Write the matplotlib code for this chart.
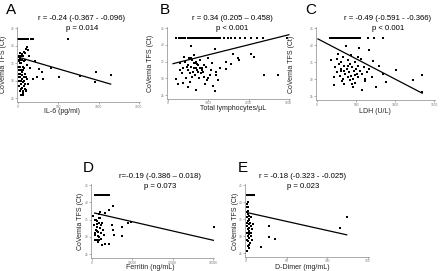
import matplotlib
matplotlib.use("Agg")
import matplotlib.pyplot as plt
import numpy as np

plt.rcParams['font.family'] = ['Liberation Sans', 'DejaVu Sans']

W, H = 440, 271

# ---- panel A : IL-6
a_flat_x = [0, 4, 8, 12, 16, 20, 24, 28, 32, 36, 40, 44, 48, 52, 56, 60, 64, 68, 72, 76, 80,
            84, 88, 92, 96, 100, 105, 110, 115, 120, 128, 160, 182, 616]
a_x = [3, 5, 6, 8, 10, 10, 12, 12, 15, 15, 18, 20, 20, 22, 25, 25, 28, 30, 30, 32, 35, 35, 38,
       40, 42, 45, 45, 48, 50, 52, 55, 58, 60, 60, 62, 65, 68, 70, 70, 72, 75, 78, 80, 85, 85,
       88, 90, 95, 95, 100, 105, 110, 120, 112, 128, 140, 150, 215, 264, 236, 190, 306, 298,
       409, 512, 769, 959, 967, 1153, 37, 57, 99, 65]
a_y = [34, 37, 32, 36, 35.5, 30, 34, 31, 33, 28.5, 36.5, 32, 27, 35, 31, 38, 34, 30, 36, 37,
       33, 26, 29, 35, 31.5, 28, 37.5, 36, 32.5, 30.5, 27, 34, 29.5, 37, 33, 26.5, 31, 35.5,
       38.2, 28.5, 30, 33.5, 27.5, 32, 38, 29, 36, 31, 39, 27, 34.5, 30.5, 29, 39.7, 38.7,
       37, 33.5, 35.6, 33.2, 30.9, 30.4, 30.6, 32.6, 33.5, 31.1, 31.4, 29.5, 32.5, 31.5,
       27.5, 26.5, 27.3, 25.8]

# ---- panel B : lymphocytes
b_flat_x = [205, 260, 330, 380, 420, 494, 530, 570, 600, 640, 680, 720, 760, 800, 840, 880,
            920, 960, 1000, 1040, 1080, 1120, 1160, 1200, 1250, 1300, 1398, 1480, 1560, 1650,
            1780, 1900, 2050, 2200, 2346, 2964]
b_x = [205, 247, 300, 350, 380, 420, 450, 480, 494, 500, 520, 540, 560, 576, 580, 600, 620,
       640, 650, 660, 680, 700, 699, 720, 740, 760, 780, 800, 820, 850, 880, 900, 950, 1000,
       1050, 1100, 1152, 1152, 1200, 1250, 1300, 1440, 1440, 1564, 1605, 1729, 1770, 2058,
       2140, 2371, 2743, 400, 460, 530, 610, 690, 750, 830, 910, 980, 1060, 1120, 1180, 300,
       360, 560, 640, 720, 870, 960]
b_y = [29.8, 28.3, 34.5, 31.5, 33, 35, 30, 32.5, 27.4, 34, 36, 31.5, 33.5, 39.7, 30.5, 35.5,
       32, 34.5, 37, 31, 33, 26.7, 35, 32.5, 34, 30, 33, 35.5, 31.5, 32.5, 34, 30.5, 33.5, 36,
       31, 34.5, 38.8, 26.3, 32, 29.5, 33, 34.9, 32.7, 34.4, 37.4, 36, 35.5, 37.4, 36.5, 30.9,
       30.9, 36.5, 33.5, 29, 32, 34.5, 31.8, 33, 28.5, 30, 32.5, 27.8, 31, 32.5, 28.8, 36,
       33.2, 34.2, 31.8, 29.5]

# ---- panel C : LDH
c_flat_x = [161, 180, 200, 220, 240, 260, 280, 300, 320, 340, 360, 380, 400, 420, 440, 460,
            480, 500, 520, 555, 648, 734, 841]
c_x = [179, 213, 213, 230, 250, 260, 280, 290, 300, 310, 320, 330, 340, 350, 350, 360, 371,
       380, 390, 400, 410, 420, 430, 440, 450, 457, 460, 470, 480, 490, 500, 510, 520, 530,
       542, 550, 560, 572, 580, 600, 620, 640, 670, 700, 755, 798, 841, 883, 1012, 1237, 1350,
       1350, 270, 330, 390, 450, 520, 610, 660, 720, 300, 420, 480]
c_y = [35.5, 30.6, 28.4, 33.5, 36, 32, 34.5, 31, 35, 33, 29.5, 36.5, 32.5, 34, 28.7, 31.5,
       39.7, 33, 35.5, 30.5, 32, 34.5, 37, 31, 33.5, 27.7, 30, 32.5, 35, 29, 33, 31.5, 34,
       30.5, 39.2, 32.5, 36, 26.9, 31.5, 33.5, 29.5, 32, 38.7, 30.5, 27.7, 34, 31.4, 29.3,
       32.7, 29.9, 26.2, 31.1, 37.5, 30, 34, 28.5, 36.5, 30, 33, 35.2, 32.5, 29.7, 31.3]

# ---- panel D : ferritin
d_flat_x = [580, 800, 1000, 1200, 1400, 1600, 1800, 2000, 2200, 2400, 2600, 2800, 3000,
            3300, 3700, 4300]
d_x = [300, 500, 700, 900, 1000, 1100, 1200, 1300, 1400, 1500, 1600, 1700, 1800, 1900, 2000,
       2100, 2200, 2300, 2500, 2700, 2900, 3060, 3200, 4130, 4300, 4960, 5130, 5130, 5460,
       7440, 7440, 8840, 9670, 30180, 600, 800, 1100, 1300, 1500, 1700, 2000, 2400, 800, 1600]
d_y = [36, 33.5, 30.5, 35, 32, 34.5, 29, 33, 28.6, 31.5, 34, 36.5, 30, 32.5, 35.5, 31, 33.5,
       29.5, 34, 32, 30.5, 28, 36.8, 37.9, 28, 33.5, 39, 32.1, 30.6, 32.9, 30.2, 34, 34.3,
       32.8, 31, 34.8, 33.8, 31.8, 30.2, 29, 37.2, 27.8, 29.2, 35.5]

# ---- panel E : D-dimer
e_flat_x = [1.2, 2, 3, 4, 5, 6, 7, 8, 10]
e_x = [0.5, 0.8, 1, 1, 1.2, 1.5, 1.5, 1.8, 2, 2, 2.2, 2.5, 2.5, 2.8, 3, 3, 3.3, 3.5, 3.8, 4,
       4, 4.5, 5, 5, 5.5, 6, 6.5, 7, 7.5, 8, 1, 2, 3, 1.5, 2.5, 4, 6, 0.8, 1.8, 3.5, 18.5,
       28.7, 28.7, 36, 115.6, 124]
e_y = [37, 34, 38.5, 31, 35.5, 29, 33, 36.5, 27, 32, 34.5, 30, 37.5, 28.5, 35, 31.5, 33.5,
       29.5, 32.5, 36, 30.5, 34, 31, 28, 33, 35.5, 30, 32, 29, 33.5, 39.5, 40, 26.5, 25.8,
       38.5, 27.5, 31, 33.8, 30.8, 34.8, 26.9, 33.1, 29.9, 29.3, 32.3, 35.5]

# regression line ends (x0, x1, y0, y1)
fits = {
    "A": (0, 1150, 36.7, 29.0),
    "B": (120, 3000, 34.4, 43.0),
    "C": (10, 1350, 41.8, 25.9),
    "D": (600, 30200, 36.9, 29.0),
    "E": (1.5, 124, 36.9, 30.4),
}

labels = ["A", "B", "C", "D", "E"]
stats1 = ["r = -0.24 (-0.367 - -0.096)", "r = 0.34 (0.205 \u2013 0.458)",
          "r = -0.49 (-0.591 - -0.366)", "r=-0.19 (-0.386 \u2013 0.018)",
          "r = -0.18 (-0.323 - -0.025)"]
stats2 = ["p = 0.014", "p < 0.001", "p < 0.001", "p = 0.073", "p = 0.023"]
xlabels = ["IL-6 (pg/ml)", "Total lymphocytes/\u00b5L", "LDH (U/L)", "Ferritin (ng/mL)",
           "D-Dimer (mg/mL)"]
xticks = [[0, 500, 1000, 1500], [0, 1000, 2000, 3000], [0, 500, 1000, 1500],
          [0, 10000, 20000, 30000], [0, 50, 100, 150]]
yticks = [25, 30, 35, 40, 45]
flat_y = 42

xs = [a_x, b_x, c_x, d_x, e_x]
ys = [a_y, b_y, c_y, d_y, e_y]
flats = [a_flat_x, b_flat_x, c_flat_x, d_flat_x, e_flat_x]

# axes boxes in pixels: left, right, top, bottom
boxes = [(17, 140, 27, 102), (167, 290, 27, 99), (316, 435, 27, 100),
         (91, 214, 184, 258), (245, 369, 184, 257)]
letter_pos = [(11, 10), (165, 10), (311, 10), (88, 168), (243, 168)]
stat_pos = [(82, 18, 28), (232, 18, 28), (388, 18, 28), (160, 177, 187), (303, 177, 187)]
xlab_pos = [(62, 111.5), (233, 108.5), (375, 111.5), (150, 267.2), (302, 267.2)]
ylab_pos = [(4, 64), (150, 63), (291, 64), (81, 221), (235.5, 221)]

fig = plt.figure(figsize=(W / 100, H / 100), dpi=100)

for i in range(5):
    l, r, t, b = boxes[i]
    ax = fig.add_axes([l / W, 1 - b / H, (r - l) / W, (b - t) / H])
    ax.scatter(xs[i], ys[i], s=1.6, c="black", marker="s", linewidths=0)
    ax.scatter(flats[i], [flat_y] * len(flats[i]), s=1.6, c="black", marker="s", linewidths=0)
    x0, x1, y0, y1 = fits[labels[i]]
    ax.plot([x0, x1], [y0, y1], color="black", lw=0.9)
    xmax = xticks[i][-1]
    ax.set_xlim(-0.01 * xmax, xmax * 1.01)
    ax.set_ylim(23.9, 45.3)
    ax.set_xticks(xticks[i])
    ax.set_yticks(yticks)
    ax.tick_params(labelsize=2.3, length=1.2, width=0.4, pad=0.6, colors="#777777")
    for s in ["top", "right"]:
        ax.spines[s].set_visible(False)
    for s in ["left", "bottom"]:
        ax.spines[s].set_color("#888888")
        ax.spines[s].set_linewidth(0.5)
    xx, xy = xlab_pos[i]
    fig.text(xx / W, 1 - xy / H, xlabels[i], fontsize=5, ha="center", va="center",
             color="#222222")
    yx, yy = ylab_pos[i]
    fig.text(yx / W, 1 - yy / H, "CoVemia TFS (Ct)", fontsize=5, ha="center", va="center",
             rotation=90, color="#222222")
    lx, ly = letter_pos[i]
    fig.text(lx / W, 1 - ly / H, labels[i], fontsize=11, ha="center", va="center")
    sx, sy1, sy2 = stat_pos[i]
    fig.text(sx / W, 1 - sy1 / H, stats1[i], fontsize=5.6, ha="center", va="center")
    fig.text(sx / W, 1 - sy2 / H, stats2[i], fontsize=5.6, ha="center", va="center")

fig.savefig("out.png", dpi=100)
